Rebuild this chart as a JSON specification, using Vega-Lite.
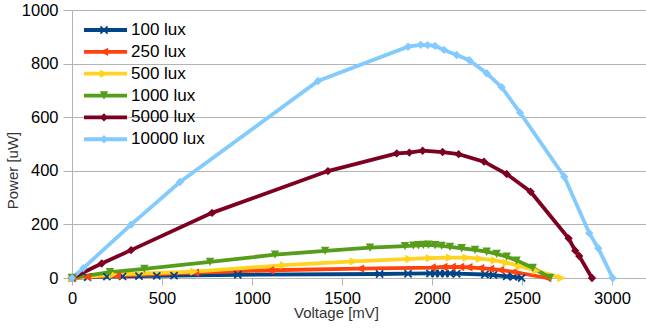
{
  "$schema": "https://vega.github.io/schema/vega-lite/v6.json",
  "width": 574,
  "height": 268,
  "autosize": {"type": "none"},
  "padding": {"left": 72, "top": 10, "right": 0, "bottom": 53},
  "background": "white",
  "config": {
    "view": {"stroke": null},
    "font": "Liberation Sans",
    "axis": {"labelFont": "Liberation Sans", "titleFont": "Liberation Sans"},
    "legend": {"labelFont": "Liberation Sans"}
  },
  "data": {
    "values": [
      {"lux": 100, "V": 0, "P": 0}, {"lux": 100, "V": 87, "P": 3}, {"lux": 100, "V": 194, "P": 5}, {"lux": 100, "V": 281, "P": 6}, {"lux": 100, "V": 372, "P": 7}, {"lux": 100, "V": 471, "P": 8}, {"lux": 100, "V": 567, "P": 9}, {"lux": 100, "V": 921, "P": 12}, {"lux": 100, "V": 1709, "P": 15}, {"lux": 100, "V": 1867, "P": 16}, {"lux": 100, "V": 1989, "P": 17}, {"lux": 100, "V": 2017, "P": 17}, {"lux": 100, "V": 2044, "P": 17}, {"lux": 100, "V": 2072, "P": 17}, {"lux": 100, "V": 2100, "P": 17}, {"lux": 100, "V": 2137, "P": 16}, {"lux": 100, "V": 2294, "P": 13}, {"lux": 100, "V": 2341, "P": 11}, {"lux": 100, "V": 2415, "P": 6}, {"lux": 100, "V": 2452, "P": 4}, {"lux": 100, "V": 2498, "P": 0},
      {"lux": 250, "V": 0, "P": 0}, {"lux": 250, "V": 82, "P": 4}, {"lux": 250, "V": 248, "P": 8}, {"lux": 250, "V": 683, "P": 20}, {"lux": 250, "V": 1100, "P": 29}, {"lux": 250, "V": 1600, "P": 35}, {"lux": 250, "V": 1998, "P": 39}, {"lux": 250, "V": 2063, "P": 41}, {"lux": 250, "V": 2109, "P": 41}, {"lux": 250, "V": 2156, "P": 41}, {"lux": 250, "V": 2202, "P": 40}, {"lux": 250, "V": 2267, "P": 37}, {"lux": 250, "V": 2322, "P": 34}, {"lux": 250, "V": 2378, "P": 30}, {"lux": 250, "V": 2452, "P": 23}, {"lux": 250, "V": 2640, "P": 0},
      {"lux": 500, "V": 0, "P": 0}, {"lux": 500, "V": 228, "P": 13}, {"lux": 500, "V": 680, "P": 24}, {"lux": 500, "V": 1178, "P": 48}, {"lux": 500, "V": 1566, "P": 62}, {"lux": 500, "V": 1875, "P": 71}, {"lux": 500, "V": 1989, "P": 74}, {"lux": 500, "V": 2100, "P": 76}, {"lux": 500, "V": 2193, "P": 76}, {"lux": 500, "V": 2267, "P": 72}, {"lux": 500, "V": 2350, "P": 66}, {"lux": 500, "V": 2415, "P": 57}, {"lux": 500, "V": 2489, "P": 44}, {"lux": 500, "V": 2581, "P": 27}, {"lux": 500, "V": 2720, "P": 0},
      {"lux": 1000, "V": 0, "P": 0}, {"lux": 1000, "V": 211, "P": 22}, {"lux": 1000, "V": 402, "P": 34}, {"lux": 1000, "V": 767, "P": 60}, {"lux": 1000, "V": 1128, "P": 87}, {"lux": 1000, "V": 1406, "P": 101}, {"lux": 1000, "V": 1656, "P": 113}, {"lux": 1000, "V": 1850, "P": 119}, {"lux": 1000, "V": 1896, "P": 121}, {"lux": 1000, "V": 1924, "P": 122}, {"lux": 1000, "V": 1952, "P": 123}, {"lux": 1000, "V": 1980, "P": 124}, {"lux": 1000, "V": 2017, "P": 122}, {"lux": 1000, "V": 2054, "P": 120}, {"lux": 1000, "V": 2100, "P": 116}, {"lux": 1000, "V": 2165, "P": 111}, {"lux": 1000, "V": 2239, "P": 105}, {"lux": 1000, "V": 2304, "P": 98}, {"lux": 1000, "V": 2359, "P": 90}, {"lux": 1000, "V": 2415, "P": 80}, {"lux": 1000, "V": 2470, "P": 65}, {"lux": 1000, "V": 2560, "P": 38}, {"lux": 1000, "V": 2656, "P": 0},
      {"lux": 5000, "V": 0, "P": 0}, {"lux": 5000, "V": 165, "P": 54}, {"lux": 5000, "V": 328, "P": 104}, {"lux": 5000, "V": 778, "P": 243}, {"lux": 5000, "V": 1422, "P": 399}, {"lux": 5000, "V": 1804, "P": 465}, {"lux": 5000, "V": 1874, "P": 468}, {"lux": 5000, "V": 1948, "P": 475}, {"lux": 5000, "V": 2059, "P": 470}, {"lux": 5000, "V": 2148, "P": 462}, {"lux": 5000, "V": 2289, "P": 434}, {"lux": 5000, "V": 2415, "P": 388}, {"lux": 5000, "V": 2548, "P": 322}, {"lux": 5000, "V": 2759, "P": 148}, {"lux": 5000, "V": 2796, "P": 102}, {"lux": 5000, "V": 2818, "P": 82}, {"lux": 5000, "V": 2889, "P": 0},
      {"lux": 10000, "V": 0, "P": 0}, {"lux": 10000, "V": 63, "P": 37}, {"lux": 10000, "V": 328, "P": 199}, {"lux": 10000, "V": 600, "P": 358}, {"lux": 10000, "V": 1367, "P": 735}, {"lux": 10000, "V": 1867, "P": 863}, {"lux": 10000, "V": 1937, "P": 870}, {"lux": 10000, "V": 1976, "P": 869}, {"lux": 10000, "V": 2017, "P": 866}, {"lux": 10000, "V": 2067, "P": 851}, {"lux": 10000, "V": 2137, "P": 832}, {"lux": 10000, "V": 2207, "P": 813}, {"lux": 10000, "V": 2304, "P": 764}, {"lux": 10000, "V": 2387, "P": 712}, {"lux": 10000, "V": 2489, "P": 617}, {"lux": 10000, "V": 2735, "P": 378}, {"lux": 10000, "V": 2874, "P": 167}, {"lux": 10000, "V": 2924, "P": 111}, {"lux": 10000, "V": 3004, "P": 0}
    ]
  },
  "encoding": {
    "x": {
      "field": "V", "type": "quantitative",
      "scale": {"domain": [0, 3189], "nice": false, "zero": true},
      "axis": {
        "title": "Voltage [mV]", "values": [0, 500, 1000, 1500, 2000, 2500, 3000], "format": "d",
        "grid": false, "domain": true, "domainColor": "#b3b3b3", "tickColor": "#b3b3b3", "tickSize": 7,
        "labelFontSize": 16.5, "labelColor": "#000000", "labelPadding": 5, "labelFlush": false,
        "titleFontSize": 15, "titleFontWeight": "normal", "titleColor": "#333333", "titleX": 264, "titleY": 27, "titleBaseline": "top"
      }
    },
    "y": {
      "field": "P", "type": "quantitative",
      "scale": {"domain": [0, 1000], "nice": false},
      "axis": {
        "title": "Power [uW]", "values": [0, 200, 400, 600, 800, 1000], "format": "d",
        "grid": true, "gridColor": "#b3b3b3", "domainColor": "#b3b3b3", "tickColor": "#b3b3b3", "tickSize": 9,
        "labelFontSize": 16.5, "labelColor": "#000000", "labelPadding": 5,
        "titleFontSize": 15, "titleFontWeight": "normal", "titleColor": "#333333", "titleX": -52, "titleY": 160
      }
    }
  },
  "layer": [
    {
      "mark": {"type": "line", "strokeWidth": 3.8},
      "encoding": {
        "color": {
          "field": "lux", "type": "nominal",
          "scale": {"domain": [100, 250, 500, 1000, 5000, 10000], "range": ["#004586", "#ff420e", "#ffd320", "#579d1c", "#7e0021", "#83caff"]},
          "legend": {
            "orient": "none", "legendX": 10, "legendY": 12, "title": null, "padding": 0,
            "symbolType": "stroke", "symbolSize": 1849, "symbolStrokeWidth": 3.8,
            "labelFontSize": 17, "labelColor": "#000000", "labelExpr": "datum.label + ' lux'",
            "clipHeight": 16, "rowPadding": 4.85, "labelOffset": 2
          }
        }
      }
    },
    {
      "mark": {"type": "point", "filled": true, "size": 70, "strokeWidth": 0, "opacity": 1},
      "encoding": {
        "fill": {
          "field": "lux", "type": "nominal",
          "scale": {"range": ["#004586", "#ff420e", "#ffd320", "#579d1c", "#7e0021", "#83caff"]},
          "legend": {
            "orient": "none", "legendX": 10, "legendY": 12, "title": null, "padding": 0,
            "symbolSize": 70, "symbolStrokeWidth": 0, "symbolOffset": 13.5,
            "labelFontSize": 17, "labelOpacity": 0,
            "clipHeight": 16, "rowPadding": 4.85
          }
        },
        "shape": {
          "field": "lux", "type": "nominal",
          "scale": {"range": ["M-1,-0.7L-0.7,-1L0,-0.3L0.7,-1L1,-0.7L0.3,0L1,0.7L0.7,1L0,0.3L-0.7,1L-1,0.7L-0.3,0Z", "M-1,0L1,-1L1,1Z", "M1,0L-1,-1L-1,1Z", "M-1,-1L1,-1L0,1Z", "M0,-1L1,0L0,1L-1,0Z", "M0,-1L1,0L0,1L-1,0Z"]},
          "legend": {
            "orient": "none", "legendX": 10, "legendY": 12, "title": null, "padding": 0,
            "symbolSize": 70, "symbolStrokeWidth": 0, "symbolOffset": 13.5,
            "labelFontSize": 17, "labelOpacity": 0,
            "clipHeight": 16, "rowPadding": 4.85
          }
        }
      }
    }
  ]
}
